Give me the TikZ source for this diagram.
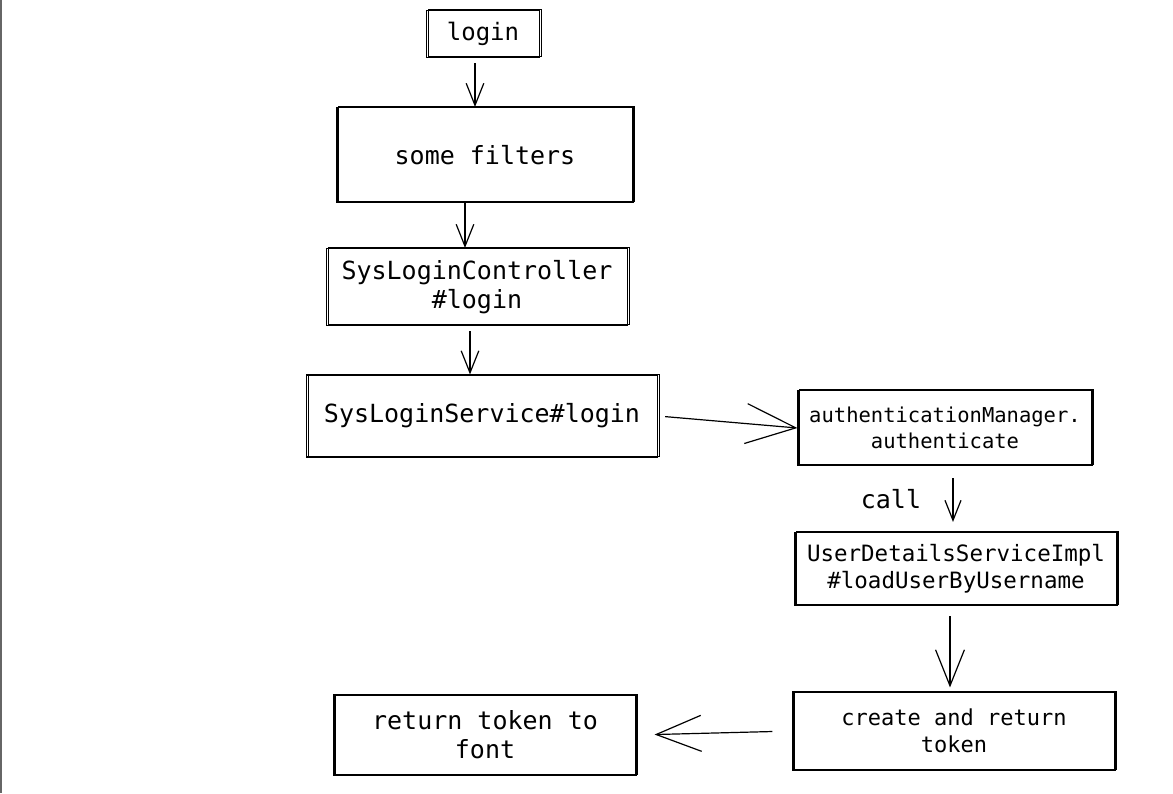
\documentclass[tikz,border=0pt]{standalone}
\usepackage{fontspec}
\setmonofont{DejaVu Sans Mono}
\usetikzlibrary{arrows.meta}
\newcommand{\fs}[2]{\fontsize{#1}{#2}\selectfont\ttfamily}

\begin{document}
\begin{tikzpicture}[x=1pt,y=-1pt,
    box/.style={draw, line width=1.2pt, align=center, inner sep=0pt,
      preaction={draw, line width=0.8pt, transform canvas={xshift=1.5pt, yshift=1pt}}},
    barb/.style={-{Straight Barb[length=#1, width=0.8*#1, line width=1.2pt]}, line width=1.2pt}]
    \useasboundingbox (0,0) rectangle (1173,793);
    \draw[gray!80!black, line width=2pt] (1,0) -- (1,793);

    \node[box, minimum width=113, minimum height=47, font=\fs{24}{29}] (1) at (483,34) {login};
    \node[box, minimum width=296, minimum height=95, font=\fs{25}{30}] (2) at (485,155) {some filters};
    \node[box, minimum width=301, minimum height=77, font=\fs{25}{29}] (3) at (477,287) {SysLoginController\\\#login};
    \node[box, minimum width=351, minimum height=82, font=\fs{25}{30}] (4) at (482,416) {SysLoginService\#login};
    \node[box, minimum width=294, minimum height=75, font=\fs{20.5}{26}] (5) at (945,428) {authenticationManager.\\authenticate};
    \node[box, minimum width=322, minimum height=73, font=\fs{22.5}{27}] (6) at (956,569) {UserDetailsServiceImpl\\\#loadUserByUsername};
    \node[box, minimum width=322, minimum height=78, font=\fs{22}{27}] (7) at (954,731) {create and return\\token};
    \node[box, minimum width=302, minimum height=80, font=\fs{25}{29}] (8) at (485,735) {return token to\\font};

    \path
	(1.south -| 475,0) [barb=22pt] edge [shorten <=5pt] (2.north -| 475,0)
	(2.south -| 465,0) [barb=22pt] edge (3.north -| 465,0)
	(3.south -| 470,0) [barb=22pt] edge [shorten <=5pt] (4.north -| 470,0)
	(4.east) [barb=50pt] edge [shorten <=7pt] (5.west)
	(5.south -| 953,0) [barb=20pt] edge [shorten <=12pt, shorten >=10pt] node [left=28pt, font=\fs{25}{30}] {call} (6.north -| 953,0)
	(6.south -| 950,0) [barb=36pt] edge [shorten <=10pt, shorten >=4pt] (7.north -| 950,0)
	(7.west) [barb=45pt] edge [shorten <=20pt, shorten >=18pt] (8.east);
\end{tikzpicture}
\end{document}
